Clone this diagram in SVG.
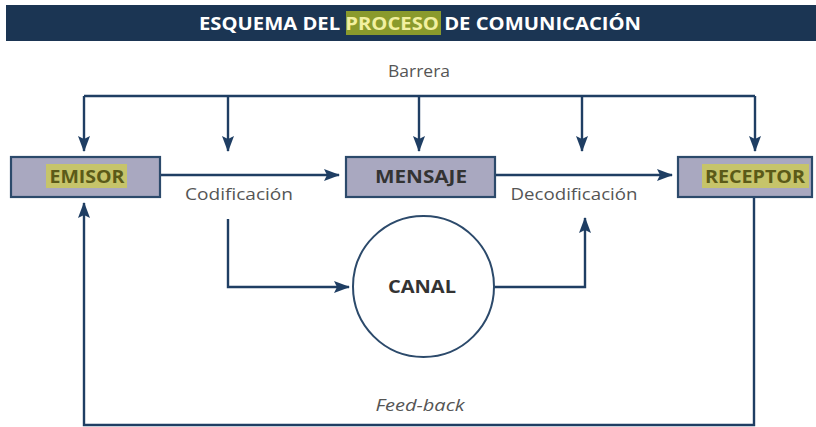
<svg xmlns="http://www.w3.org/2000/svg" width="816" height="427" viewBox="0 0 816 427">
<style>
.box{fill:#a9a8c0;stroke:#2c4a6b;stroke-width:2.2}
.ln{fill:none;stroke:#1f3e63;stroke-width:2.4}
.lbl{font-family:"Open Sans","Liberation Sans",sans-serif;font-size:17px;fill:#555;text-anchor:middle}
.bt{font-family:"Open Sans","Liberation Sans",sans-serif;font-size:18px;font-weight:bold;text-anchor:middle}
</style>
<defs>
<marker id="ar2" markerWidth="16" markerHeight="12" refX="15" refY="6" orient="auto" markerUnits="userSpaceOnUse" viewBox="0 0 16 12">
<path d="M0,0 L16,6 L0,12 L3,6 Z" fill="#1f3e63"/>
</marker>
</defs>
<rect width="816" height="427" fill="#fff"/>
<g id="header">
<rect x="6" y="5" width="810" height="36" fill="#1b3553"/>
<rect x="346" y="11" width="95" height="24" fill="#8a9a2c"/>
<text x="420" y="30" font-family="'Open Sans','Liberation Sans',sans-serif" font-size="17" font-weight="bold" fill="#fff" text-anchor="middle" textLength="442" lengthAdjust="spacingAndGlyphs">ESQUEMA DEL <tspan fill="#f2f0a0">PROCESO</tspan> DE COMUNICACIÓN</text>
</g>
<g id="connectors">
<path class="ln" d="M84,96 H755"/>
<path class="ln" d="M84,96 V151" marker-end="url(#ar2)"/>
<path class="ln" d="M228,96 V151" marker-end="url(#ar2)"/>
<path class="ln" d="M419,96 V151" marker-end="url(#ar2)"/>
<path class="ln" d="M582,96 V151" marker-end="url(#ar2)"/>
<path class="ln" d="M755,96 V151" marker-end="url(#ar2)"/>
<path class="ln" d="M160,175 H339" marker-end="url(#ar2)"/>
<path class="ln" d="M495,175 H672" marker-end="url(#ar2)"/>
<path class="ln" d="M228,219 V287 H349" marker-end="url(#ar2)"/>
<path class="ln" d="M494,287 H585 V218" marker-end="url(#ar2)"/>
<path class="ln" d="M754,197 V425 H84 V203" marker-end="url(#ar2)"/>
</g>
<text class="lbl" x="419" y="77" textLength="62" lengthAdjust="spacingAndGlyphs">Barrera</text>
<text class="lbl" x="239" y="200" textLength="108" lengthAdjust="spacingAndGlyphs">Codificación</text>
<text class="lbl" x="574" y="200" textLength="127" lengthAdjust="spacingAndGlyphs">Decodificación</text>
<text class="lbl" x="420" y="411" font-style="italic" textLength="89" lengthAdjust="spacingAndGlyphs">Feed-back</text>
<g id="emisor">
<rect class="box" x="11" y="157" width="149" height="40"/>
<rect x="46" y="164" width="81" height="24" fill="#c6c46a"/>
<text class="bt" x="87" y="183" fill="#5b5a18" textLength="75" lengthAdjust="spacingAndGlyphs">EMISOR</text>
</g>
<g id="mensaje">
<rect class="box" x="346" y="157" width="149" height="40"/>
<text class="bt" x="421" y="183" fill="#333" textLength="92" lengthAdjust="spacingAndGlyphs">MENSAJE</text>
</g>
<g id="receptor">
<rect class="box" x="678" y="157" width="134" height="40"/>
<rect x="702" y="164" width="107" height="24" fill="#c6c46a"/>
<text class="bt" x="755" y="183" fill="#5b5a18" textLength="100" lengthAdjust="spacingAndGlyphs">RECEPTOR</text>
</g>
<g id="canal">
<circle cx="423.5" cy="286.5" r="70.5" fill="#fff" stroke="#2c4a6b" stroke-width="2"/>
<text class="bt" x="422" y="293" fill="#333" textLength="68" lengthAdjust="spacingAndGlyphs">CANAL</text>
</g>
</svg>
